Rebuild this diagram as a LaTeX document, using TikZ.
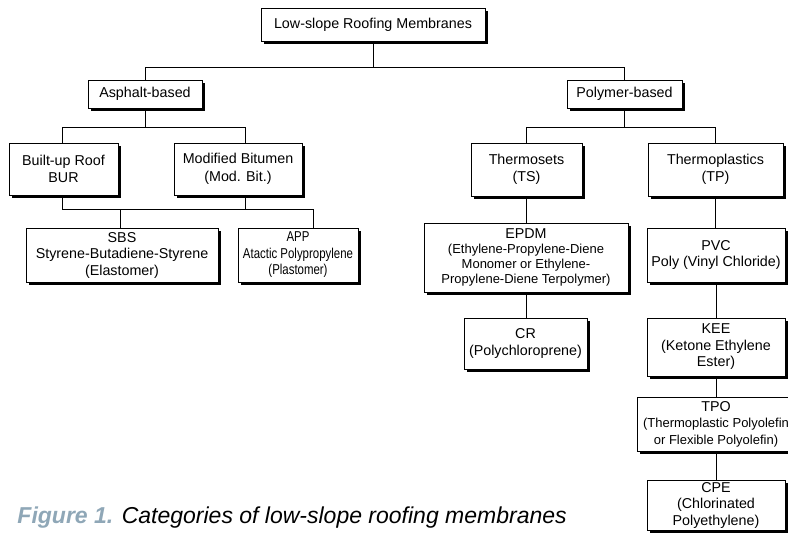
\documentclass[tikz,border=0pt]{standalone}
\usepackage{fontspec}
\usepackage{graphicx}
\setmainfont{Liberation Sans}
\usetikzlibrary{shadows}
\definecolor{capblue}{HTML}{8FA7B7}
\begin{document}
\begin{tikzpicture}[x=1pt,y=-1pt, line width=0.9pt,
  box/.style={draw, fill=white, inner sep=0pt, align=center,
    font=\fontsize{14.3}{16.5}\selectfont,
    drop shadow={shadow xshift=2.5pt, shadow yshift=-2.5pt, fill=black, opacity=1}},
  sm/.style={font=\fontsize{13}{15}\selectfont},
  smtpo/.style={font=\fontsize{13}{16.5}\selectfont},
  big/.style={font=\fontsize{14.3}{17.5}\selectfont}]
\useasboundingbox (0,0) rectangle (788,533);

% nodes
\node[box, minimum width=224, minimum height=33] (root) at (373,24.5) {Low-slope Roofing Membranes};
\node[box, minimum width=114, minimum height=28] (asph) at (145,94) {Asphalt-based};
\node[box, minimum width=115, minimum height=28] (poly) at (624.5,94) {Polymer-based};

\node[box, big, minimum width=109, minimum height=52] (bur) at (63.5,169) {Built-up Roof\\BUR};
\node[box, big, minimum width=128, minimum height=52] (modbit) at (238,169) {Modified Bitumen\\(Mod. Bit.)};
\node[box, minimum width=192, minimum height=54] (sbs) at (122,255) {SBS\\Styrene-Butadiene-Styrene\\(Elastomer)};
\node[box, minimum width=120, minimum height=54] (app) at (298,255)
  {\scalebox{0.8}[1]{APP}\\\scalebox{0.8}[1]{Atactic Polypropylene}\\\scalebox{0.8}[1]{(Plastomer)}};

\node[box, minimum width=111, minimum height=53] (ts) at (526.5,169.5) {Thermosets\\(TS)};
\node[box, minimum width=135, minimum height=53] (tp) at (715.5,169.5) {Thermoplastics\\(TP)};
\node[box, sm, minimum width=204, minimum height=69] (epdm) at (526,257.5)
  {{\fontsize{14.3}{16.5}\selectfont EPDM}\\(Ethylene-Propylene-Diene\\Monomer or Ethylene-\\Propylene-Diene Terpolymer)};
\node[box, minimum width=123, minimum height=51] (cr) at (525.5,343.5) {CR\\(Polychloroprene)};
\node[box, minimum width=138, minimum height=54] (pvc) at (716,255) {PVC\\Poly (Vinyl Chloride)};
\node[box, minimum width=138, minimum height=58] (kee) at (716,347) {KEE\\(Ketone Ethylene\\Ester)};
\node[box, smtpo, minimum width=158, minimum height=54] (tpo) at (716,424)
  {{\fontsize{14.3}{16.5}\selectfont TPO}\\(Thermoplastic Polyolefin\\or Flexible Polyolefin)};
\node[box, minimum width=138, minimum height=50] (cpe) at (716,505) {CPE\\(Chlorinated\\Polyethylene)};

% connectors
\draw (root.south) -- ++(0,26) coordinate (b1);
\draw (asph.north) |- (b1) -| (poly.north);

\draw (asph.south) -- ++(0,19) coordinate (b2);
\draw ([xshift=-1.5pt]bur.north) |- (b2) -| ([xshift=7pt]modbit.north);

\draw ([xshift=-1.5pt]bur.south) -- ++(0,14) coordinate (b3);
\draw (b3) -| ([xshift=15pt]app.north);
\draw ([xshift=7pt]modbit.south) -- ([xshift=7pt]modbit.south |- b3);
\draw ([xshift=-2pt]sbs.north) -- ([xshift=-2pt]sbs.north |- b3);

\draw (poly.south) -- ++(0,19) coordinate (b4);
\draw (ts.north) |- (b4) -| (tp.north);

\draw (ts.south) -- (ts.south |- epdm.north);
\draw (epdm.south) -- (epdm.south |- cr.north);
\draw (tp.south) -- (tp.south |- pvc.north);
\draw (pvc.south) -- (pvc.south |- kee.north);
\draw (kee.south) -- (kee.south |- tpo.north);
\draw (tpo.south) -- (tpo.south |- cpe.north);

% caption
\node[anchor=base west, inner sep=0pt, font=\fontsize{23}{27}\selectfont\itshape] (cap) at (17,523)
  {{\bfseries\color{capblue}Figure 1.} Categories of low-slope roofing membranes};
\end{tikzpicture}
\end{document}
